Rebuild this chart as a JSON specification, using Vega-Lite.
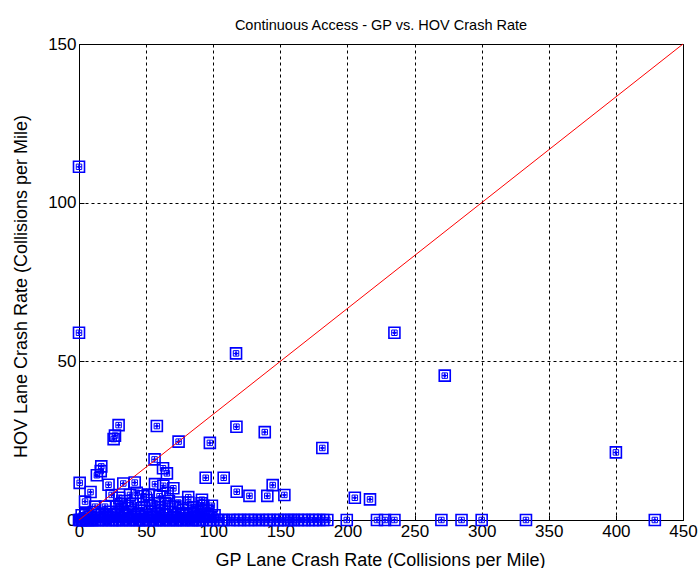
{
  "$schema": "https://vega.github.io/schema/vega-lite/v6.json",
  "width": 604,
  "height": 476,
  "autosize": {"type": "none"},
  "padding": {"left": 79, "top": 44, "right": 15, "bottom": 48},
  "background": "white",
  "title": {"text": "Continuous Access - GP vs. HOV Crash Rate", "font": "Liberation Sans", "fontSize": 14.5, "fontWeight": "normal", "color": "black", "baseline": "alphabetic", "offset": 14, "dy": 23, "anchor": "middle"},
  "config": {
    "view": {"stroke": "black", "strokeWidth": 1},
    "axis": {
      "domainColor": "black", "tickColor": "black", "labelColor": "black", "titleColor": "black",
      "labelFont": "Liberation Sans", "titleFont": "Liberation Sans", "labelFontSize": 17, "titleFontSize": 18, "titleFontWeight": "normal",
      "gridColor": "black", "gridDash": [3, 3], "gridOpacity": 1, "gridWidth": 1, "tickSize": -5, "labelPadding": 8, "labelFlush": false
    }
  },
  "datasets": {
    "pts": [
      {"x":0,"y":111.3},{"x":0,"y":59},{"x":117,"y":52.5},{"x":235,"y":59},{"x":272.5,"y":45.5},{"x":400,"y":21.3},{"x":181.3,"y":22.7},
      {"x":29.5,"y":29.9},{"x":25.8,"y":25.5},{"x":26.8,"y":26.6},{"x":58,"y":29.6},{"x":74.2,"y":24.7},{"x":97.5,"y":24.3},{"x":117.3,"y":29.4},{"x":138.4,"y":27.7},
      {"x":56.3,"y":19.1},{"x":16.6,"y":16.9},{"x":16.2,"y":15.4},{"x":13.3,"y":14.1},{"x":62.6,"y":16.3},{"x":65.5,"y":14.7},{"x":94.4,"y":13.3},{"x":107.8,"y":13.3},
      {"x":117.5,"y":8.9},{"x":127,"y":7.6},{"x":140.3,"y":7.6},{"x":144.3,"y":11},{"x":153,"y":7.9},{"x":205.5,"y":7},{"x":216.8,"y":6.5},
      {"x":0.5,"y":11.7},{"x":8.6,"y":8.8},{"x":22,"y":11.1},{"x":33,"y":11.5},{"x":41.5,"y":11.8},{"x":56.6,"y":11.3},{"x":62.8,"y":10.8},{"x":70.3,"y":10},
      {"x":81.4,"y":7.2},{"x":91.6,"y":6.4},{"x":92.6,"y":4.5},{"x":24.3,"y":7.9},{"x":43,"y":8.6},{"x":38,"y":7.9},
      {"x":4.5,"y":5.8},{"x":12,"y":4.2},{"x":19.4,"y":4.2},{"x":23,"y":2.6},{"x":28,"y":4.2},{"x":31,"y":5},{"x":34,"y":6},{"x":36.8,"y":3.7},{"x":40,"y":5},
      {"x":46.7,"y":3.7},{"x":50.4,"y":6.3},{"x":53,"y":4.5},{"x":56.6,"y":5.3},{"x":60,"y":4},{"x":64,"y":5.3},{"x":67,"y":6},{"x":71.5,"y":4.2},{"x":74,"y":5.5},
      {"x":77.7,"y":3.2},{"x":81.4,"y":5.5},{"x":85,"y":4},{"x":88,"y":3},{"x":91.4,"y":5.3},{"x":96,"y":3},{"x":99,"y":4.5},{"x":48,"y":7.5},{"x":52,"y":8},{"x":60,"y":7.5},{"x":66,"y":8.5},{"x":30,"y":7},
      {"x":2,"y":1.5},{"x":5,"y":2},{"x":8,"y":1},{"x":11,"y":2.5},{"x":14,"y":1.5},{"x":17,"y":2},{"x":20,"y":1},{"x":24,"y":1.8},{"x":26,"y":1.5},{"x":29,"y":2},
      {"x":32,"y":3},{"x":35,"y":1.5},{"x":38,"y":2.5},{"x":41,"y":1},{"x":44,"y":2},{"x":47,"y":3},{"x":50,"y":1.5},{"x":53,"y":2.5},{"x":56,"y":1},{"x":59,"y":2},
      {"x":62,"y":3},{"x":65,"y":1.5},{"x":68,"y":2.5},{"x":71,"y":1},{"x":74,"y":2},{"x":77,"y":1.5},{"x":80,"y":1.5},{"x":83,"y":2},{"x":86,"y":1},{"x":89,"y":2.5},
      {"x":92,"y":1.5},{"x":95,"y":2},{"x":98,"y":1},{"x":101,"y":1.5},
      {"x":0,"y":0},{"x":1,"y":0},{"x":2,"y":0},{"x":3,"y":0},{"x":4,"y":0},{"x":5,"y":0},{"x":6,"y":0},{"x":7,"y":0},{"x":8,"y":0},{"x":9,"y":0},{"x":10,"y":0},
      {"x":12,"y":0},{"x":14,"y":0},{"x":15,"y":0},{"x":17,"y":0},{"x":18,"y":0},{"x":20,"y":0},{"x":22,"y":0},{"x":24,"y":0},{"x":25,"y":0},{"x":27,"y":0},
      {"x":28,"y":0},{"x":30,"y":0},{"x":32,"y":0},{"x":33,"y":0},{"x":35,"y":0},{"x":37,"y":0},{"x":38,"y":0},{"x":40,"y":0},{"x":42,"y":0},{"x":43,"y":0},
      {"x":45,"y":0},{"x":47,"y":0},{"x":48,"y":0},{"x":50,"y":0},{"x":52,"y":0},{"x":53,"y":0},{"x":55,"y":0},{"x":57,"y":0},{"x":58,"y":0},{"x":60,"y":0},
      {"x":62,"y":0},{"x":63,"y":0},{"x":65,"y":0},{"x":67,"y":0},{"x":68,"y":0},{"x":70,"y":0},{"x":72,"y":0},{"x":73,"y":0},{"x":75,"y":0},{"x":77,"y":0},
      {"x":78,"y":0},{"x":80,"y":0},{"x":82,"y":0},{"x":84,"y":0},{"x":85,"y":0},{"x":87,"y":0},{"x":89,"y":0},{"x":90,"y":0},{"x":92,"y":0},{"x":95,"y":0},
      {"x":97,"y":0},{"x":100,"y":0},{"x":103,"y":0},{"x":106,"y":0},{"x":108,"y":0},{"x":112,"y":0},{"x":115,"y":0},{"x":118,"y":0},{"x":120,"y":0},{"x":123,"y":0},
      {"x":126,"y":0},{"x":128,"y":0},{"x":131,"y":0},{"x":134,"y":0},{"x":137,"y":0},{"x":140,"y":0},{"x":142,"y":0},{"x":145,"y":0},{"x":148,"y":0},{"x":150,"y":0},
      {"x":153,"y":0},{"x":156,"y":0},{"x":158,"y":0},{"x":160,"y":0},{"x":163,"y":0},{"x":166,"y":0},{"x":168,"y":0},{"x":171,"y":0},{"x":174,"y":0},{"x":176,"y":0},
      {"x":179,"y":0},{"x":182,"y":0},{"x":185,"y":0},{"x":199.5,"y":0},{"x":222,"y":0},{"x":228,"y":0},{"x":235,"y":0},{"x":270,"y":0},{"x":285,"y":0},{"x":300,"y":0},
      {"x":333,"y":0},{"x":429,"y":0}
    ],
    "diag": [{"x":0,"y":0},{"x":450,"y":150}]
  },
  "encoding": {
    "x": {"field": "x", "type": "quantitative", "scale": {"domain": [0, 450], "nice": false, "zero": false},
          "axis": {"values": [0,50,100,150,200,250,300,350,400,450], "title": "GP Lane Crash Rate (Collisions per Mile)", "titleX": 301, "titleY": 45, "titleBaseline": "alphabetic", "titleAnchor": "middle"}},
    "y": {"field": "y", "type": "quantitative", "scale": {"domain": [0, 150], "nice": false, "zero": false},
          "axis": {"values": [0,50,100,150], "title": "HOV Lane Crash Rate (Collisions per Mile)", "titleX": -53, "titleY": 242, "titleBaseline": "alphabetic", "titleAngle": -90, "titleAnchor": "middle"}}
  },
  "layer": [
    {"data": {"name": "pts"}, "mark": {"type": "point", "shape": "square", "size": 121, "filled": false, "stroke": "#0000ff", "strokeWidth": 1.6, "opacity": 1}},
    {"data": {"name": "pts"}, "mark": {"type": "point", "shape": "square", "size": 30, "filled": false, "stroke": "#0000ff", "strokeWidth": 1, "opacity": 1}},
    {"data": {"name": "pts"}, "mark": {"type": "point", "shape": "M-1,0L1,0M0,-1L0,1", "size": 30, "filled": false, "stroke": "#0000ff", "strokeWidth": 1, "opacity": 1}},
    {"data": {"name": "pts"}, "mark": {"type": "point", "shape": "circle", "size": 9, "filled": true, "fill": "#0000ff", "opacity": 1}},
    {"data": {"name": "diag"}, "mark": {"type": "line", "color": "#ff0000", "strokeWidth": 1}}
  ]
}
